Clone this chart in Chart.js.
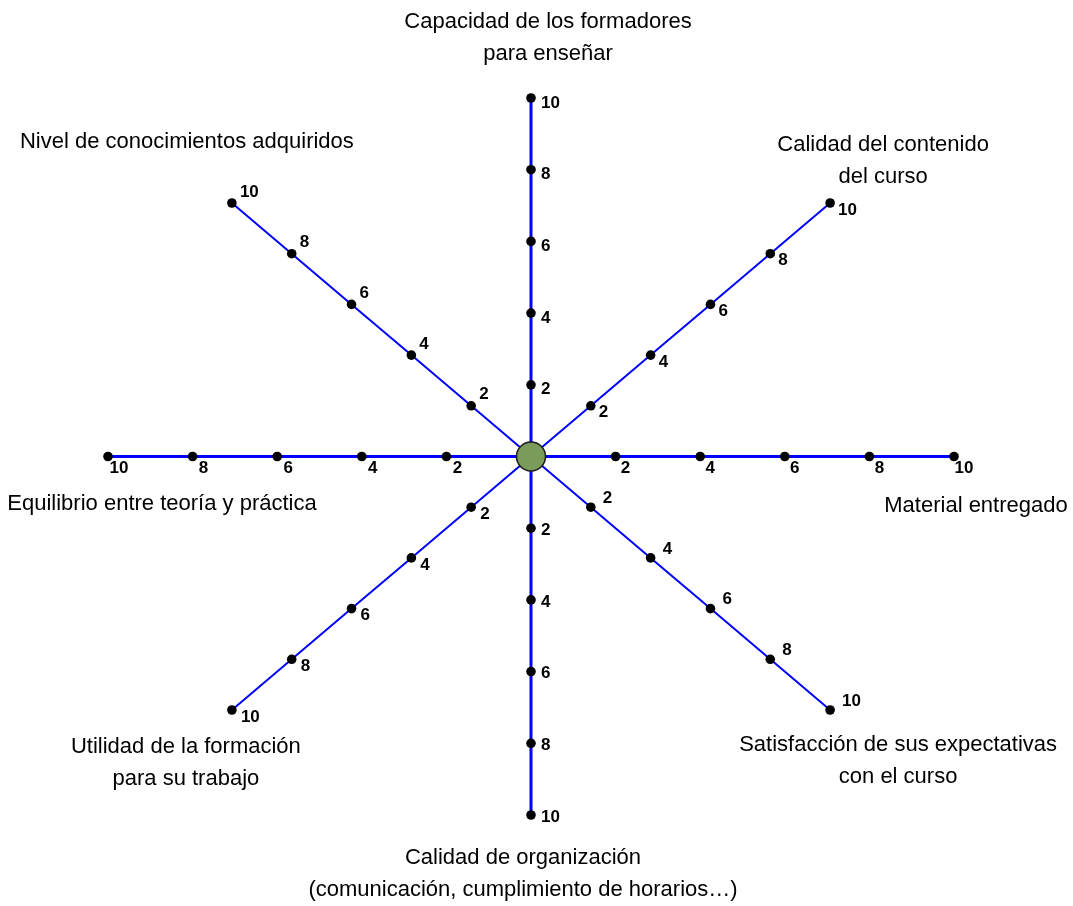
<!DOCTYPE html>
<html lang="es">
<head>
  <meta charset="UTF-8" />
  <title>Valoración del curso</title>
  <script src="https://cdn.jsdelivr.net/npm/chart.js"></script>
  <style>
    html, body { margin: 0; padding: 0; background: #fff; }
    .wrap { width: 1073px; height: 906px; position: relative; }
  </style>
</head>
<body>
<div class="wrap"><canvas id="spider" width="1073" height="906"></canvas></div>

<script>
  // axes, clockwise from the top
  const categories = [
    ['Capacidad de los formadores', 'para enseñar'],
    ['Calidad del contenido', 'del curso'],
    ['Material entregado'],
    ['Satisfacción de sus expectativas', 'con el curso'],
    ['Calidad de organización', '(comunicación, cumplimiento de horarios…)'],
    ['Utilidad de la formación', 'para su trabajo'],
    ['Equilibrio entre teoría y práctica'],
    ['Nivel de conocimientos adquiridos']
  ];
  const tickValues = [2, 4, 6, 8, 10];
  const tickLabels = ['2', '4', '6', '8', '10'];
  const axisMax = 10;

  // where the numbers sit next to each dot (px), one per axis
  // [dx, dy, align]
  const tickOffsets = [
    [10, 5, 'left'], [8, 7, 'left'], [10, 12, 'center'], [12, -9, 'left'],
    [10, 2, 'left'], [9, 7, 'left'], [11, 12, 'center'], [8, -11, 'left']
  ];
  // where the axis titles sit relative to the end of each axis (px)
  const titleOffsets = [[17, -60], [53, -42], [22, 49], [68, 51], [-8, 59], [-46, 53], [54, 47], [-45, -61]];

  const angleOf = i => (90 - i * 45) * Math.PI / 180;

  const datasets = [];
  // centre knob
  datasets.push({
    data: [{ x: 0, y: 0 }],
    showLine: false,
    pointRadius: 14.5,
    pointBackgroundColor: '#7a9b5a',
    pointBorderColor: '#1c1c1c',
    pointBorderWidth: 1.5,
    order: 0
  });
  categories.forEach((c, i) => {
    const a = angleOf(i);
    const vals = [0].concat(tickValues);
    datasets.push({
      data: vals.map(v => ({ x: v * Math.cos(a), y: v * Math.sin(a) })),
      showLine: true,
      borderColor: '#0000ff',
      borderWidth: i % 2 === 0 ? 3 : 2,
      pointRadius: vals.map(v => v === 0 ? 0 : 4.8),
      pointBackgroundColor: '#000',
      pointBorderColor: '#000',
      pointBorderWidth: 0,
      order: 1
    });
  });

  const labelPlugin = {
    id: 'spiderLabels',
    afterDatasetsDraw(chart) {
      const ctx = chart.ctx;
      const xs = chart.scales.x, ys = chart.scales.y;
      ctx.save();
      ctx.fillStyle = '#000';
      ctx.textBaseline = 'middle';
      categories.forEach((c, i) => {
        const a = angleOf(i);
        const off = tickOffsets[i];
        // tick numbers
        ctx.font = 'bold 17px "Liberation Sans", Arial, sans-serif';
        ctx.textAlign = off[2];
        tickValues.forEach((v, k) => {
          const px = xs.getPixelForValue(v * Math.cos(a));
          const py = ys.getPixelForValue(v * Math.sin(a));
          ctx.fillText(tickLabels[k], px + off[0], py + off[1]);
        });
        // axis titles
        ctx.font = '22px "Liberation Sans", Arial, sans-serif';
        ctx.textAlign = 'center';
        const ex = xs.getPixelForValue(axisMax * Math.cos(a));
        const ey = ys.getPixelForValue(axisMax * Math.sin(a));
        const cx = ex + titleOffsets[i][0];
        const cy = ey + titleOffsets[i][1];
        const lh = 31.5;
        c.forEach((line, j) => {
          ctx.fillText(line, cx, cy + (j - (c.length - 1) / 2) * lh);
        });
      });
      ctx.restore();
    }
  };

  new Chart(document.getElementById('spider'), {
    type: 'scatter',
    data: { datasets },
    options: {
      responsive: false,
      animation: false,
      clip: false,
      layout: { padding: { left: 108, right: 119, top: 98, bottom: 91 } },
      plugins: { legend: { display: false }, tooltip: { enabled: false } },
      scales: {
        x: { display: false, min: -axisMax, max: axisMax },
        y: { display: false, min: -axisMax, max: axisMax }
      }
    },
    plugins: [labelPlugin]
  });
</script>
</body>
</html>
